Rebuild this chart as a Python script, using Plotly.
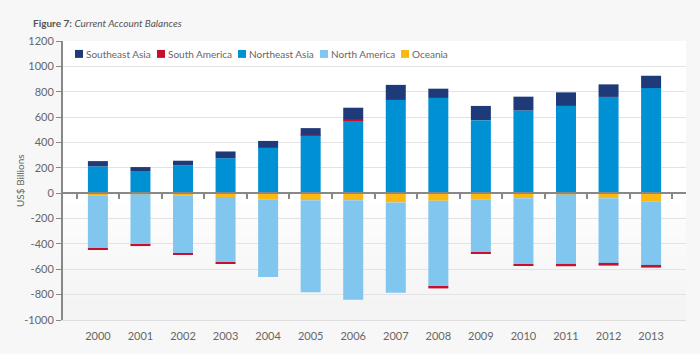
import plotly.graph_objects as go

years = ["2000", "2001", "2002", "2003", "2004", "2005", "2006",
         "2007", "2008", "2009", "2010", "2011", "2012", "2013"]
southeast_asia = [42, 31, 37, 53, 48, 52, 93, 114, 73, 112, 109, 107, 99, 97]
south_america = [-10, -10, -10, -13, 4, 5, 5, 5, -13, -13, -13, -18, -21, -21]
northeast_asia = [211, 175, 219, 276, 360, 456, 576, 735, 751, 576, 652, 688, 759, 829]
north_america = [-417, -399, -459, -514, -613, -727, -785, -712, -678, -417, -522, -548, -511, -503]
oceania = [-16, -8, -16, -31, -47, -55, -55, -73, -60, -47, -39, -10, -39, -63]

y_ticks = list(range(-1000, 1201, 200))
y_tick_text = [str(v) for v in y_ticks]

FONT = "Lato, 'Open Sans', sans-serif"
GRAY = "#666666"

fig = go.Figure()
# trace order controls stacking: positives NE Asia -> S America -> SE Asia,
# negatives Oceania -> N America -> S America
series = [
    ("Oceania", oceania, "#fbb813"),
    ("Northeast Asia", northeast_asia, "#0091d5"),
    ("North America", north_america, "#80c6ee"),
    ("South America", south_america, "#c8102e"),
    ("Southeast Asia", southeast_asia, "#1f3a78"),
]
colors = {name: c for name, _, c in series}
for name, vals, color in series:
    fig.add_trace(go.Bar(
        x=years, y=vals, name=name, marker_color=color,
        marker_line_width=0, showlegend=False,
    ))

# invisible helper trace for the zero-line axis with tick marks
fig.add_trace(go.Scatter(x=years, y=[0] * len(years), xaxis="x2",
                         mode="markers", marker_opacity=0,
                         showlegend=False, hoverinfo="skip"))

# plot-area geometry in pixels (for legend placement)
L, R, T, B = 63, 686, 41, 322
PW, PH = R - L, B - T

legend_order = ["Southeast Asia", "South America", "Northeast Asia",
                "North America", "Oceania"]
legend_px = [75, 157, 238, 320, 401]
leg_y = 54
sq = 8
for name, px in zip(legend_order, legend_px):
    fig.add_shape(type="rect", xref="paper", yref="paper",
                  x0=(px - L) / PW, x1=(px + sq - L) / PW,
                  y0=(B - leg_y - sq / 2) / PH, y1=(B - leg_y + sq / 2) / PH,
                  fillcolor=colors[name], line_width=0)
    fig.add_annotation(text=name, xref="paper", yref="paper",
                       x=(px + sq + 1 - L) / PW, y=(B - leg_y) / PH,
                       xanchor="left", yanchor="middle", showarrow=False,
                       font=dict(size=10, color=GRAY))

# y axis title
fig.add_annotation(text="US$ Billions", xref="paper", yref="paper",
                   x=(20 - L) / PW, y=(B - 182) / PH, textangle=-90,
                   xanchor="center", yanchor="middle", showarrow=False,
                   font=dict(size=10, color=GRAY))

# subtle gradient on lower part of plot area
n = 12
for i in range(n):
    y0 = 0.45 * i / n
    fig.add_shape(type="rect", xref="paper", yref="paper",
                  x0=0, x1=1, y0=0, y1=0.45 - y0,
                  fillcolor="#f2f2f2", opacity=0.09,
                  line_width=0, layer="below")

fig.update_layout(
    width=700, height=354,
    margin=dict(l=L, r=700 - R, t=T, b=354 - B),
    paper_bgcolor="#f7f7f7",
    plot_bgcolor="#ffffff",
    barmode="relative",
    bargap=0.53,
    showlegend=False,
    font=dict(family=FONT, size=11, color=GRAY),
    title=dict(
        text="<b>Figure 7:</b> <i>Current Account Balances</i>",
        x=33 / 700, xanchor="left", y=1 - 23 / 354, yanchor="middle",
        font=dict(size=10, color="#555555"),
    ),
    xaxis=dict(
        type="category", showgrid=False, zeroline=False,
        showline=True, linecolor="#dddddd", linewidth=1,
        ticks="", tickfont=dict(size=11, color=GRAY),
        ticklabelstandoff=6,
    ),
    xaxis2=dict(
        type="category", overlaying="x", matches="x", anchor="free",
        position=1000 / 2200, showline=True, linecolor="#888888",
        linewidth=2, ticks="outside", tickson="boundaries", ticklen=5,
        tickwidth=1.5, tickcolor="#888888", showticklabels=False,
        showgrid=False, side="bottom",
    ),
    yaxis=dict(
        range=[-1000, 1200], tickvals=y_ticks, ticktext=y_tick_text,
        showgrid=True, gridcolor="#e3e3e3", gridwidth=1, zeroline=False,
        showline=True, linecolor="#888888", linewidth=2,
        ticks="outside", ticklen=5, tickcolor="#888888",
        tickfont=dict(size=11, color=GRAY),
    ),
)

fig.write_html("out.html")
